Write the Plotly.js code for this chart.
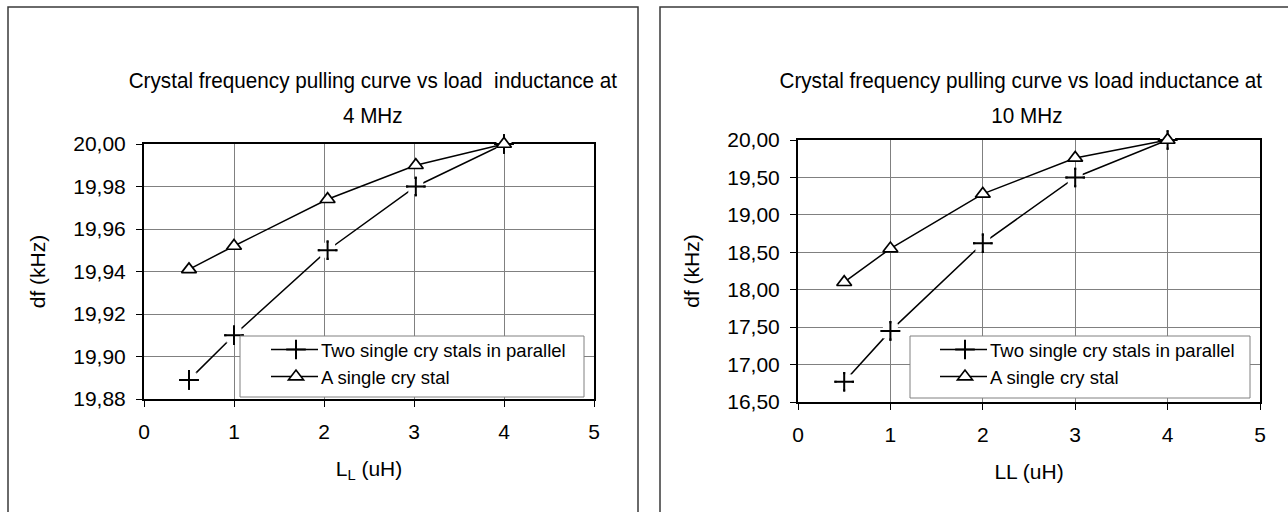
<!DOCTYPE html>
<html><head><meta charset="utf-8">
<script src="https://cdn.plot.ly/plotly-3.0.1.min.js"></script>
<style>html,body{margin:0;padding:0;background:#fff}#chart{width:1288px;height:512px}</style>
</head><body><div id="chart"></div>
<script>
// ---- data ----
const inductance4MHz = [0.5, 1, 2.04, 3.02, 4];
const parallel4MHz = [19.889, 19.910, 19.950, 19.980, 20.000];
const single4MHz = [19.941, 19.952, 19.974, 19.990, 20.000];
const inductance10MHz = [0.5, 1, 2, 3, 4];
const parallel10MHz = [16.77, 17.45, 18.62, 19.50, 20.00];
const single10MHz = [18.10, 18.55, 19.28, 19.76, 20.00];
const seriesNames = ['Two single cry stals in parallel', 'A single cry stal'];
const titleLine1 = ['Crystal frequency pulling curve vs load  inductance at', 'Crystal frequency pulling curve vs load inductance at'];
const titleLine2 = ['4 MHz', '10 MHz'];
const xTitles = ['L<sub>L</sub> (uH)', 'LL (uH)'];
const yTitle = 'df (kHz)';
const yRange4 = [19.88, 20.00];
const yRange10 = [16.5, 20.0];

const W = 1288, H = 512;
const px = v => v / W, py = v => 1 - v / H;
const TXT = 'Liberation Sans, Arial, sans-serif';

const lineStyle = {color: '#000', width: 1.5};
const crossMarker = {symbol: 'cross-thin', size: 14, color: '#000', line: {color: '#000', width: 2}};
const haloMarker = {symbol: 'square', size: 15, color: '#fff', line: {width: 0}};
const triMarker = {symbol: 'triangle-up', size: 13, color: '#fff', line: {color: '#000', width: 1.7}};

function seriesTraces(x, yPar, ySingle, xa, ya, lg) {
  return [
    {x, y: yPar, name: seriesNames[0], mode: 'lines+markers', line: lineStyle, marker: crossMarker, xaxis: xa, yaxis: ya, legend: lg, cliponaxis: false},
    {x, y: yPar, mode: 'markers', marker: haloMarker, xaxis: xa, yaxis: ya, showlegend: false, hoverinfo: 'skip', cliponaxis: false},
    {x, y: yPar, mode: 'markers', marker: crossMarker, xaxis: xa, yaxis: ya, showlegend: false, hoverinfo: 'skip', cliponaxis: false},
    {x, y: ySingle, name: seriesNames[1], mode: 'lines+markers', line: lineStyle, marker: triMarker, xaxis: xa, yaxis: ya, legend: lg, cliponaxis: false}
  ];
}
const traces = [].concat(
  seriesTraces(inductance4MHz, parallel4MHz, single4MHz, 'x', 'y', 'legend'),
  seriesTraces(inductance10MHz, parallel10MHz, single10MHz, 'x2', 'y2', 'legend2')
);

const axBase = {
  showline: true, mirror: true, linecolor: '#000', linewidth: 2, layer: 'below traces',
  showgrid: true, gridcolor: '#808080', gridwidth: 1, zeroline: false,
  ticks: 'outside', ticklen: 6, tickcolor: '#000', tickwidth: 1,
  tickfont: {family: TXT, size: 21, color: '#000'}, fixedrange: true, automargin: false
};
const xBase = Object.assign({}, axBase, {range: [0, 5], dtick: 1, tick0: 0, ticklabelstandoff: 7});
const yBase = Object.assign({}, axBase, {ticklabelstandoff: 6, tickformat: '.2f'});
const titleFont = {family: TXT, size: 21, color: '#000'};

const legendBase = {
  bgcolor: 'rgba(0,0,0,0)', borderwidth: 0,
  font: {family: TXT, size: 18.5, color: '#000'},
  xanchor: 'left', yanchor: 'top', itemwidth: 40
};

const ann = (text, x, y, size, extra) => Object.assign({
  text, x: px(x), y: py(y), xref: 'paper', yref: 'paper', showarrow: false,
  xanchor: 'center', yanchor: 'middle', font: {family: TXT, size, color: '#000'}
}, extra || {});

const layout = {
  width: W, height: H, margin: {l: 0, r: 0, t: 0, b: 0},
  paper_bgcolor: '#fff', plot_bgcolor: '#fff', separators: ',.',
  showlegend: true,
  xaxis: Object.assign({}, xBase, {domain: [px(144), px(594)], anchor: 'y', title: {text: xTitles[0], font: titleFont, standoff: 19}}),
  yaxis: Object.assign({}, yBase, {domain: [py(399), py(144)], anchor: 'x', range: yRange4, dtick: 0.02, tick0: 19.88, title: {text: yTitle, font: titleFont, standoff: 22}}),
  xaxis2: Object.assign({}, xBase, {domain: [px(798), px(1260)], anchor: 'y2', title: {text: xTitles[1], font: titleFont, standoff: 19}}),
  yaxis2: Object.assign({}, yBase, {domain: [py(402), py(140)], anchor: 'x2', range: yRange10, dtick: 0.5, tick0: 16.5, title: {text: yTitle, font: titleFont, standoff: 22}}),
  legend: Object.assign({}, legendBase, {x: px(271), y: py(331)}),
  legend2: Object.assign({}, legendBase, {x: px(940), y: py(331)}),
  shapes: [
    {type: 'rect', xref: 'paper', yref: 'paper', x0: px(8), x1: px(638), y0: -0.2, y1: py(7), line: {color: '#3a3a3a', width: 1.5}},
    {type: 'rect', xref: 'paper', yref: 'paper', x0: px(660), x1: 1.2, y0: -0.2, y1: py(7), line: {color: '#3a3a3a', width: 1.5}},
    {type: 'rect', xref: 'paper', yref: 'paper', layer: 'above', x0: px(240), x1: px(584), y0: py(397), y1: py(336), fillcolor: '#fff', line: {color: '#808080', width: 1}},
    {type: 'rect', xref: 'paper', yref: 'paper', layer: 'above', x0: px(910), x1: px(1250), y0: py(398), y1: py(336), fillcolor: '#fff', line: {color: '#808080', width: 1}}
  ],
  annotations: [
    ann(titleLine1[0], 373, 80, 22),
    ann(titleLine2[0], 373, 115, 22),
    ann(titleLine1[1], 1021, 80, 22),
    ann(titleLine2[1], 1027, 115, 22)
  ]
};

Plotly.newPlot('chart', traces, layout, {displayModeBar: false, staticPlot: true}).then(gd => {
  // slightly condensed chart titles, as in the reference
  [0, 1, 2, 3].forEach(i => {
    const t = gd.querySelector('.annotation[data-index="' + i + '"] text');
    if (t) { t.style.transformBox = 'fill-box'; t.style.transformOrigin = 'center'; t.style.transform = 'scaleX(0.94)'; }
  });
  // longer legend sample lines, as in the reference
  gd.querySelectorAll('.legendlines path').forEach(p => p.setAttribute('d', 'M-6,0h53'));
});
</script></body></html>
